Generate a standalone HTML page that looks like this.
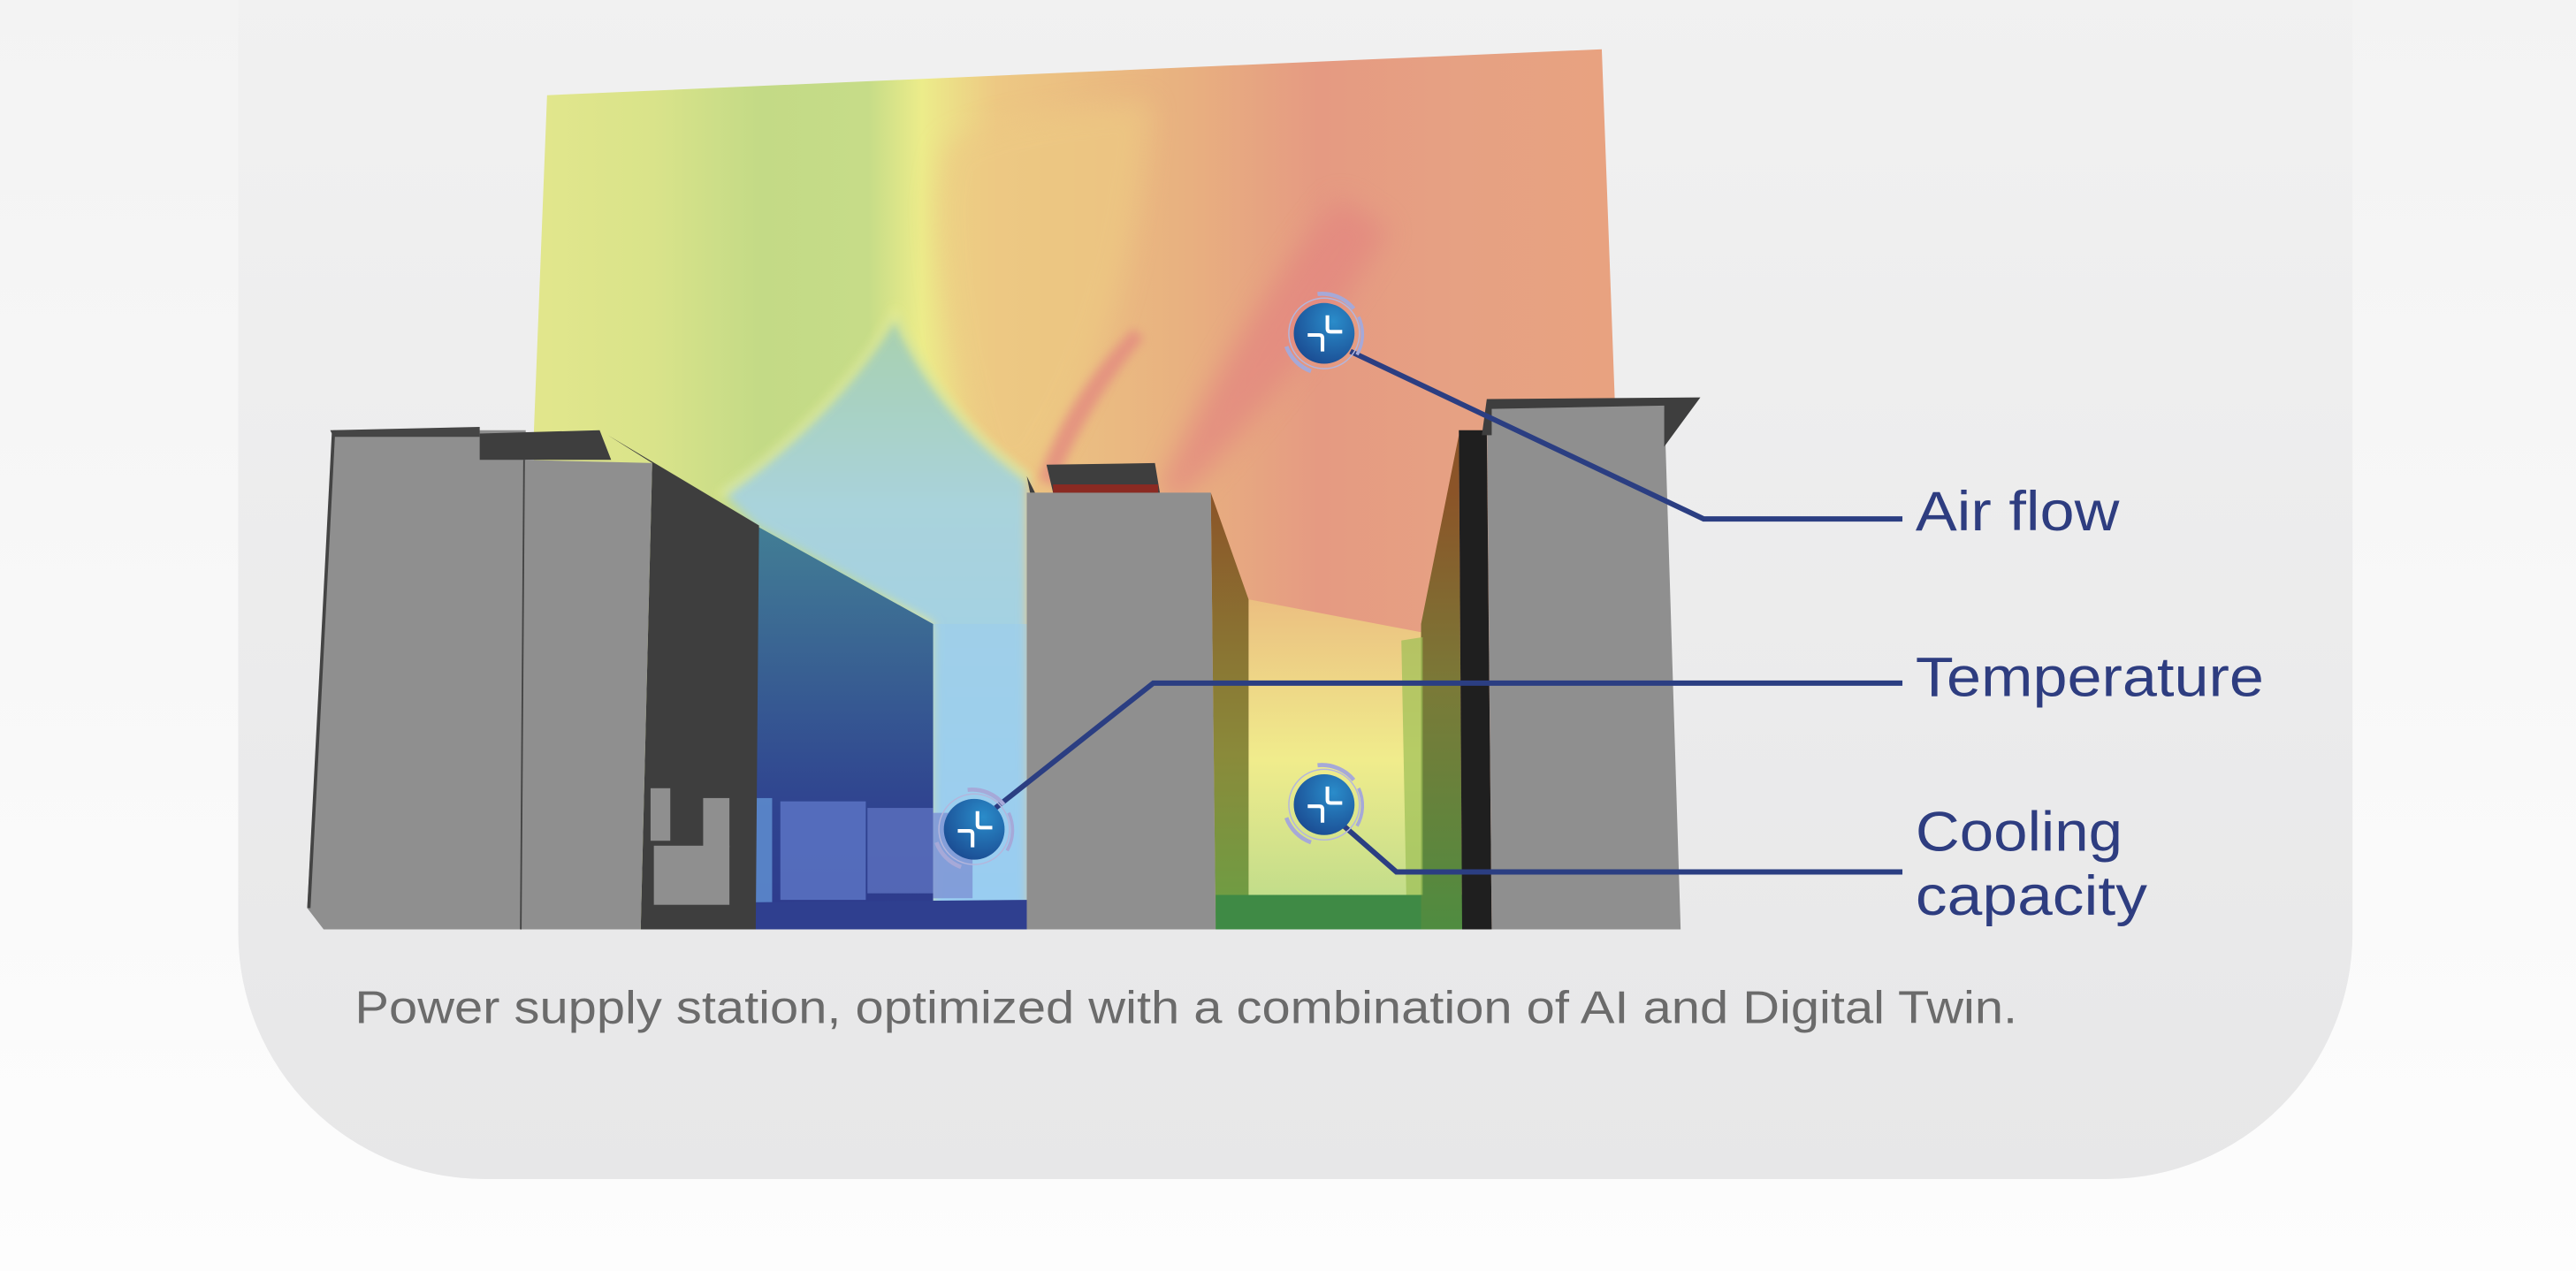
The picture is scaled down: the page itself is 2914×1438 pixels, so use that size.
<!DOCTYPE html>
<html><head><meta charset="utf-8"><style>
html,body{margin:0;padding:0;width:2914px;height:1438px;overflow:hidden;background:#fafafa}
svg{display:block}
</style></head><body>
<svg width="2914" height="1438" viewBox="0 0 1568 774" preserveAspectRatio="none" xmlns="http://www.w3.org/2000/svg">
<defs>
<filter id="blur" x="-20%" y="-20%" width="140%" height="140%"><feGaussianBlur stdDeviation="8"/></filter>
<filter id="blur2" x="-20%" y="-20%" width="140%" height="140%"><feGaussianBlur stdDeviation="3"/></filter>
<clipPath id="hc"><polygon points="333,58 975,30 985,300 985,566 325,566 325,262"/></clipPath>
<linearGradient id="bg" x1="0" y1="0" x2="0" y2="1"><stop offset="0" stop-color="#f3f3f3"/><stop offset="1" stop-color="#fdfdfd"/></linearGradient>
<linearGradient id="card" x1="0" y1="0" x2="0" y2="1"><stop offset="0" stop-color="#f1f1f1"/><stop offset="1" stop-color="#e7e7e8"/></linearGradient>
<linearGradient id="heat" x1="333" y1="0" x2="985" y2="0" gradientUnits="userSpaceOnUse">
<stop offset="0" stop-color="#e1e68c"/><stop offset="0.1" stop-color="#d9e38a"/><stop offset="0.2" stop-color="#c3da86"/>
<stop offset="0.3" stop-color="#c6dc88"/><stop offset="0.35" stop-color="#ecec8a"/><stop offset="0.42" stop-color="#edc883"/>
<stop offset="0.6" stop-color="#e8b080"/><stop offset="0.72" stop-color="#e59a82"/><stop offset="0.85" stop-color="#e6a183"/><stop offset="1" stop-color="#e8a280"/></linearGradient>
<linearGradient id="blue" x1="0" y1="200" x2="0" y2="566" gradientUnits="userSpaceOnUse"><stop offset="0" stop-color="#a8d0b0"/><stop offset="0.3" stop-color="#a9d3dc"/><stop offset="1" stop-color="#98cdf2"/></linearGradient>
<linearGradient id="teal" x1="0" y1="320" x2="0" y2="566" gradientUnits="userSpaceOnUse"><stop offset="0" stop-color="#427e95"/><stop offset="0.7" stop-color="#2f4390"/><stop offset="1" stop-color="#2d3a8c"/></linearGradient>
<linearGradient id="low" x1="0" y1="360" x2="0" y2="566" gradientUnits="userSpaceOnUse"><stop offset="0" stop-color="#ebbd80"/><stop offset="0.5" stop-color="#f0ec8c"/><stop offset="1" stop-color="#b7d98a"/></linearGradient>
<linearGradient id="brownL" x1="0" y1="300" x2="0" y2="566" gradientUnits="userSpaceOnUse"><stop offset="0" stop-color="#8b5428"/><stop offset="0.6" stop-color="#8a8a3a"/><stop offset="1" stop-color="#6aa045"/></linearGradient>
<linearGradient id="brownR" x1="0" y1="300" x2="0" y2="566" gradientUnits="userSpaceOnUse"><stop offset="0" stop-color="#8b5428"/><stop offset="0.45" stop-color="#7a7a38"/><stop offset="1" stop-color="#4f8c40"/></linearGradient>
<radialGradient id="ic" cx="0.65" cy="0.3" r="0.8"><stop offset="0" stop-color="#2a8cca"/><stop offset="1" stop-color="#1a4990"/></radialGradient>
<g id="icon">
<path d="M -4 -24 A 25 25 0 0 1 18 -15" fill="none" stroke="#a6a9d8" stroke-width="2.5"/>
<path d="M 21 -10 A 25 25 0 0 1 20 13" fill="none" stroke="#a6a9d8" stroke-width="2"/>
<path d="M -23 8 A 25 25 0 0 0 -8 23" fill="none" stroke="#a6a9d8" stroke-width="2.5"/>
<circle r="21.5" fill="none" stroke="#b4b6dc" stroke-width="0.8"/>
<circle r="18.5" fill="url(#ic)"/>
<path d="M -10 1 H -3 Q -1 1 -1 3 V 11" fill="none" stroke="#fff" stroke-width="2.2"/>
<path d="M 2 -11 V -3 Q 2 -1 4 -1 H 11" fill="none" stroke="#fff" stroke-width="2.2"/>
</g>
</defs>
<rect width="1568" height="774" fill="url(#bg)"/>
<path d="M145 -10 H1432 V568 A150 150 0 0 1 1282 718 H295 A150 150 0 0 1 145 568 Z" fill="url(#card)"/>
<!-- heatmap -->
<polygon points="333,58 975,30 985,300 985,566 325,566 325,262" fill="url(#heat)"/>
<g clip-path="url(#hc)">
<path d="M575 90 Q600 70 700 62 Q690 200 630 290 L600 290 Q570 200 570 120 Z" fill="#edc983" opacity="0.7" filter="url(#blur)"/>
<path d="M705 300 Q750 200 815 120 L845 140 Q790 230 718 305 Z" fill="#e38780" opacity="0.75" filter="url(#blur)"/>
<path d="M632 292 Q650 240 690 200 L696 206 Q660 250 642 296 Z" fill="#e38a80" opacity="0.8" filter="url(#blur2)"/>
<path d="M440 300 Q510 250 545 190 Q570 250 625 290 L625 566 L568 566 L568 380 L460 320 Z" fill="url(#blue)" filter="url(#blur2)"/>
<path d="M438 302 Q510 250 545 190 Q570 250 627 292" fill="none" stroke="#eef08c" stroke-width="4" opacity="0.8" filter="url(#blur2)"/>
</g>
<polygon points="760,365 865,385 865,566 760,566" fill="url(#low)"/>
<!-- left building -->
<polygon points="460,320 568,380 568,566 460,566" fill="url(#teal)"/>
<polygon points="568,380 625,380 625,566 568,566" fill="#98cdf2" opacity="0.4"/>
<g opacity="0.85">
<rect x="444" y="486" width="26" height="64" fill="#5f8ed0"/>
<rect x="475" y="488" width="52" height="60" fill="#5b74c4"/>
<rect x="528" y="492" width="40" height="52" fill="#5a6fbd"/>
<rect x="568" y="495" width="24" height="52" fill="#7f96d6"/>
</g>
<polygon points="395,550 625,548 625,566 395,566" fill="#2f3f8f"/>
<polygon points="370,265 462,320 460,566 390,566 397,282" fill="#3e3e3e"/>
<rect x="398" y="515" width="46" height="36" fill="#8f8f8f"/>
<rect x="396" y="480" width="12" height="32" fill="#8f8f8f"/>
<rect x="428" y="486" width="16" height="30" fill="#8f8f8f"/>
<polygon points="203,262 320,262 320,566 197,566 187,553" fill="#8f8f8f"/>
<polygon points="318,280 397,282 390,566 317,566" fill="#8f8f8f"/>
<line x1="319" y1="280" x2="317" y2="566" stroke="#444" stroke-width="1"/>
<polygon points="201,262 292,260 292,266 203,266" fill="#454545"/>
<polygon points="292,264 365,262 372,280 292,280" fill="#3e3e3e"/>
<line x1="203" y1="263" x2="188" y2="553" stroke="#444" stroke-width="2"/>
<!-- middle building -->
<polygon points="737,300 760,365 760,566 740,566" fill="url(#brownL)"/>
<polygon points="625,300 737,300 740,566 625,566" fill="#8f8f8f"/>
<polygon points="637,283 703,282 706,300 641,300" fill="#3e3e3e"/>
<rect x="641" y="295" width="64" height="5" fill="#8b2a22"/>
<polygon points="625,290 630,300 627,300" fill="#3e3e3e"/>
<!-- right building -->
<polygon points="740,545 890,545 890,566 740,566" fill="#3f8a45"/>
<polygon points="888,265 865,380 865,566 890,566" fill="url(#brownR)"/>
<polygon points="853,390 866,388 866,545 856,545" fill="#9cbf55" opacity="0.7"/>
<polygon points="888,262 905,262 908,566 890,566" fill="#1f1f1f"/>
<polygon points="905,247 1013,245 1023,566 908,566" fill="#8f8f8f"/>
<polygon points="905,243 1035,242 1013,272 1013,247 908,249 908,265 902,265" fill="#3e3e3e"/>
<!-- connectors -->
<g fill="none" stroke="#2b3e82" stroke-width="3.2">
<polyline points="822,214 1037,316 1158,316"/>
<polyline points="606,492 702,416 1158,416"/>
<polyline points="818,503 850,531 1158,531"/>
</g>
<use href="#icon" x="806" y="203"/>
<use href="#icon" x="593" y="505"/>
<use href="#icon" x="806" y="490"/>
<g font-family="Liberation Sans, sans-serif" fill="#2e3d80" font-size="34" lengthAdjust="spacingAndGlyphs">
<text x="1166" y="323" textLength="124" lengthAdjust="spacingAndGlyphs">Air flow</text>
<text x="1166" y="424" textLength="212" lengthAdjust="spacingAndGlyphs">Temperature</text>
<text x="1166" y="518" textLength="126" lengthAdjust="spacingAndGlyphs">Cooling</text>
<text x="1166" y="557" textLength="141" lengthAdjust="spacingAndGlyphs">capacity</text>
</g>
<text x="216" y="623" font-family="Liberation Sans, sans-serif" font-size="28" fill="#6b6b6b" textLength="1012" lengthAdjust="spacingAndGlyphs">Power supply station, optimized with a combination of AI and Digital Twin.</text>
</svg>
</body></html>
